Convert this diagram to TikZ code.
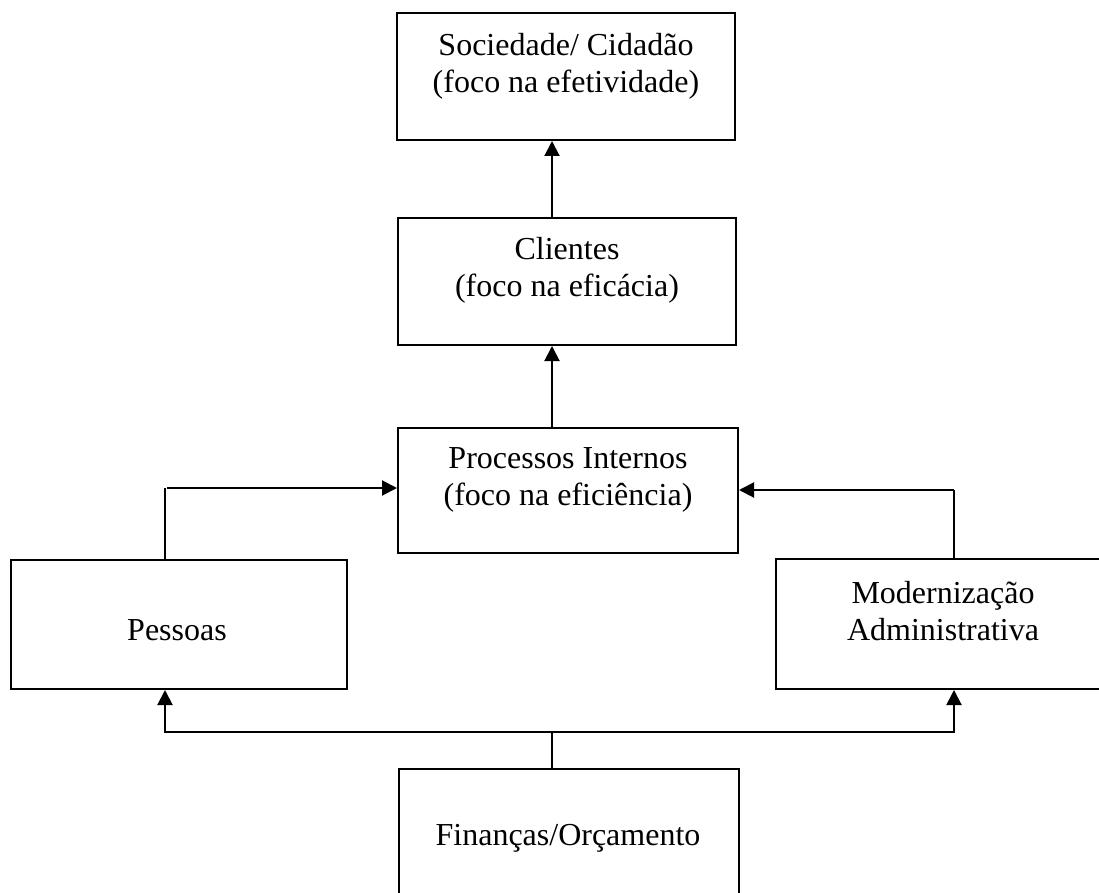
\documentclass[tikz,border=0pt]{standalone}
\usepackage{fontspec}
\setmainfont{Liberation Serif}
\usetikzlibrary{arrows.meta}
\begin{document}
\begin{tikzpicture}[x=1pt,y=-1pt,
  box/.style={draw=black,line width=2pt,rectangle,inner sep=0pt},
  txt/.style={align=center,font=\fontsize{32}{37}\selectfont,inner sep=0pt},
  arr/.style={line width=2pt,-{Triangle[width=15pt,length=15pt]}},
  seg/.style={line width=1.5pt}]
\clip (0,0) rectangle (1099,893);
\fill[white] (0,0) rectangle (1099,893);
% boxes
\node[box,minimum width=338pt,minimum height=127pt] (soc) at (566,76.5) {};
\node[box,minimum width=338pt,minimum height=127pt] (cli) at (567,281.5) {};
\node[box,minimum width=340pt,minimum height=125pt] (pro) at (568,490.5) {};
\node[box,minimum width=336pt,minimum height=129pt] (pes) at (179,624.5) {};
\node[box,minimum width=340pt,minimum height=130pt] (mod) at (946,624) {};
\node[box,minimum width=340pt,minimum height=131pt] (fin) at (569,834.5) {};
% texts
\node[txt] (tsoc) at (566,66) {Sociedade/ Cidadão\\(foco na efetividade)};
\node[txt] (tcli) at (567,270) {Clientes\\(foco na eficácia)};
\node[txt] (tpro) at (568,480) {Processos Internos\\(foco na eficiência)};
\node[txt] (tpes) at (177,630) {Pessoas};
\node[txt] (tmod) at (943,611) {Modernização\\Administrativa};
\node[txt] (tfin) at (568,838) {Finanças/Orçamento};
% guide coordinates
\coordinate (ax) at (552,0);
\coordinate (lx) at (165,0);
\coordinate (rx) at (954,0);
\coordinate (pl) at (0,488);
\coordinate (pr) at (0,490);
\coordinate (jy) at (0,732);
% connectors
\draw[arr] (cli.north -| ax) -- (soc.south -| ax);
\draw[arr] (pro.north -| ax) -- (cli.south -| ax);
\draw[seg] (pes.north -| lx) -- (lx |- pl);
\draw[arr] ([xshift=2pt]lx |- pl) -- (pro.west |- pl);
\draw[seg] (mod.north -| rx) -- (rx |- pr);
\draw[arr] (rx |- pr) -- (pro.east |- pr);
\draw[seg] (fin.north -| ax) -- (ax |- jy);
\draw[arr] (ax |- jy) -| (pes.south -| lx);
\draw[arr] (ax |- jy) -| (mod.south -| rx);
\end{tikzpicture}
\end{document}
